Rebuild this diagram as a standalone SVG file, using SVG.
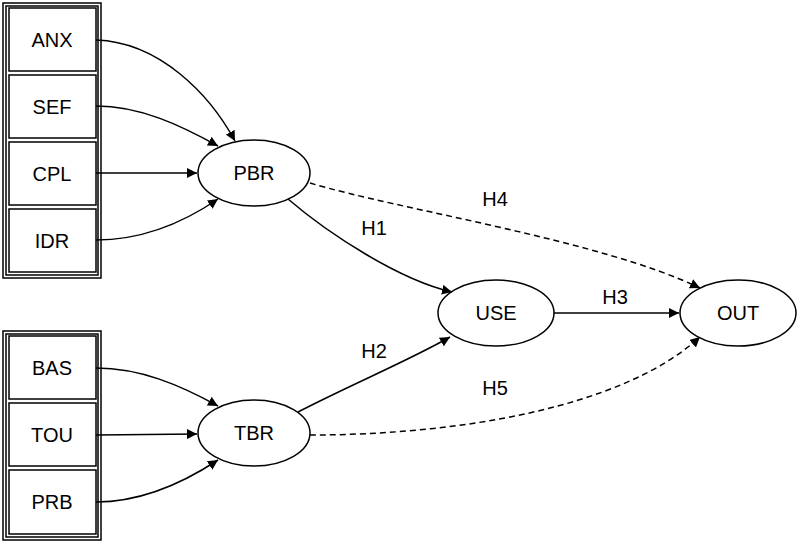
<svg xmlns="http://www.w3.org/2000/svg" width="800" height="542" viewBox="0 0 800 542">
<style>
.b{fill:#fff;stroke:#000;stroke-width:1.5}
.e{fill:#fff;stroke:#000;stroke-width:1.5}
.t{font-family:"Liberation Sans",Arial,sans-serif;font-size:20px;text-anchor:middle;dominant-baseline:central;fill:#000}
.c{fill:none;stroke:#000;stroke-width:1.5}
.d{stroke-dasharray:6,4}
</style>
<defs><marker id="a" viewBox="0 0 10 10" refX="10" refY="5" markerWidth="10" markerHeight="10" markerUnits="userSpaceOnUse" orient="auto"><path d="M0,0L10,5L0,10z"/></marker></defs>
<g id="cluster1"><rect class="b" x="3" y="3" width="98" height="275"/><rect class="b" x="6" y="6" width="92" height="269"/></g>
<g id="cluster2"><rect class="b" x="3" y="331" width="98" height="209"/><rect class="b" x="6" y="334" width="92" height="203"/></g>
<g id="ANX"><rect class="b" x="9" y="8" width="87" height="63"/><text class="t" x="52" y="40">ANX</text></g>
<g id="SEF"><rect class="b" x="9" y="75" width="87" height="63"/><text class="t" x="52" y="107">SEF</text></g>
<g id="CPL"><rect class="b" x="9" y="142" width="87" height="63"/><text class="t" x="52" y="174">CPL</text></g>
<g id="IDR"><rect class="b" x="9" y="209" width="87" height="63"/><text class="t" x="52" y="241">IDR</text></g>
<g id="BAS"><rect class="b" x="9" y="336" width="87" height="63"/><text class="t" x="52" y="368">BAS</text></g>
<g id="TOU"><rect class="b" x="9" y="403" width="87" height="63"/><text class="t" x="52" y="435">TOU</text></g>
<g id="PRB"><rect class="b" x="9" y="470" width="87" height="64"/><text class="t" x="52" y="502">PRB</text></g>
<g id="PBR"><ellipse class="e" cx="254" cy="173" rx="56" ry="33"/><text class="t" x="254" y="173">PBR</text></g>
<g id="TBR"><ellipse class="e" cx="254" cy="433" rx="56" ry="33"/><text class="t" x="254" y="433">TBR</text></g>
<g id="USE"><ellipse class="e" cx="496" cy="313" rx="58" ry="33"/><text class="t" x="496" y="313">USE</text></g>
<g id="OUT"><ellipse class="e" cx="738" cy="313" rx="58" ry="33"/><text class="t" x="738" y="313">OUT</text></g>
<g id="connectors">
<path class="c" marker-end="url(#a)" d="M96,40C160,42 210,95 235,141"/>
<path class="c" marker-end="url(#a)" d="M96,106C140,106 180,125 218,146"/>
<path class="c" marker-end="url(#a)" d="M96,173L197,173"/>
<path class="c" marker-end="url(#a)" d="M96,240C140,240 180,225 218,199"/>
<path class="c" marker-end="url(#a)" d="M96,368C140,368 180,385 218,406"/>
<path class="c" marker-end="url(#a)" d="M96,435L197,434"/>
<path class="c" marker-end="url(#a)" d="M96,502C140,502 180,485 218,460"/>
<path class="c" marker-end="url(#a)" d="M288,199C330,235 400,280 452,292"/>
<path class="c" marker-end="url(#a)" d="M298,412C350,385 410,360 450,337"/>
<path class="c" marker-end="url(#a)" d="M554,313L679,313"/>
<path class="c d" marker-end="url(#a)" d="M310,183C400,210 600,240 700,288"/>
<path class="c d" marker-end="url(#a)" d="M310,435C450,435 620,410 700,337"/>
<text class="t" x="374" y="228">H1</text>
<text class="t" x="374" y="351">H2</text>
<text class="t" x="615" y="297">H3</text>
<text class="t" x="495" y="199">H4</text>
<text class="t" x="495" y="388">H5</text>
</g>
</svg>
